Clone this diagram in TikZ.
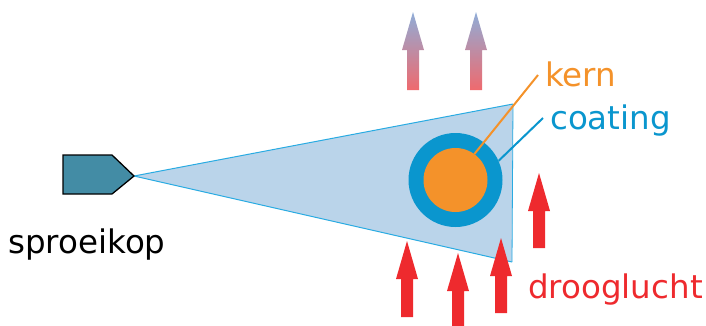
\documentclass[tikz,border=0pt]{standalone}
\usepackage{fontspec}
\setmainfont{DejaVu Sans}
\usepackage{xcolor}
\usetikzlibrary{positioning, calc}
\definecolor{nozzleteal}{HTML}{438CA5}
\definecolor{sprayblue}{HTML}{BAD4EA}
\definecolor{sprayedge}{HTML}{29ABE2}
\definecolor{coatblue}{HTML}{0A96CE}
\definecolor{kernorange}{HTML}{F4922A}
\definecolor{airred}{HTML}{EE2A2E}
\definecolor{warmtop}{HTML}{8FADD8}
\definecolor{warmbottom}{HTML}{EF6A6E}

\begin{document}
\begin{tikzpicture}[x=1pt, y=-1pt,
    label/.style={inner sep=0pt, anchor=base west, font=\fontsize{32.5}{38}\selectfont}]

    \useasboundingbox (0,0) rectangle (706,325);

    % =================================================================
    % LAYER 1: THE SPRAY CONE
    % =================================================================
    \fill[sprayblue] (134,176) -- (513,104) -- (512,262) -- cycle;
    \draw[sprayedge, line width=1pt] (513,104) -- (134,176) -- (512,262);
    \draw[sprayedge, line width=0.8pt] (513,104) -- (512,262);

    % =================================================================
    % LAYER 2: THE NOZZLE
    % =================================================================
    \draw[fill=nozzleteal, line width=1.3pt, line join=miter]
        (63,155) -- (112,155) -- (134,176) -- (112,194) -- (63,194) -- cycle;
    \node[label] (nozzlelabel) at (8,253) {sproeikop};

    % =================================================================
    % LAYER 3: THE PARTICLE
    % =================================================================
    \node[circle, fill=coatblue, minimum size=94pt, inner sep=0pt] (coating) at (455.5,180) {};
    \node[circle, fill=kernorange, minimum size=64pt, inner sep=0pt] (kern) at (455.5,180) {};

    \node[label, text=kernorange] (kernlabel) at (545,86) {kern};
    \node[label, text=coatblue] (coatlabel) at (550,129) {coating};
    \coordinate (kernend) at (538,75);
    \coordinate (coatend) at (543,118);
    \draw[kernorange, line width=2pt] (kern.54) -- (kernend);
    \draw[coatblue, line width=2pt] (coating.24) -- (coatend);

    % =================================================================
    % LAYER 4: THE DRYING AIR
    % =================================================================
    \foreach \ax/\tip/\base in {407/241/317, 458/253/326, 501/238/313, 539/173/248}
        \fill[airred] (\ax,\tip) -- (\ax+11,\tip+38) -- (\ax+6,\tip+38) -- (\ax+6,\base)
            -- (\ax-6,\base) -- (\ax-6,\tip+38) -- (\ax-11,\tip+38) -- cycle;

    \foreach \ax in {413, 476}
        \shade[top color=warmtop, bottom color=warmbottom]
            (\ax,12) -- (\ax+11,50) -- (\ax+6,50) -- (\ax+6,90)
            -- (\ax-6,90) -- (\ax-6,50) -- (\ax-11,50) -- cycle;

    \node[label, text=airred] (airlabel) at (528,298) {drooglucht};

\end{tikzpicture}
\end{document}
